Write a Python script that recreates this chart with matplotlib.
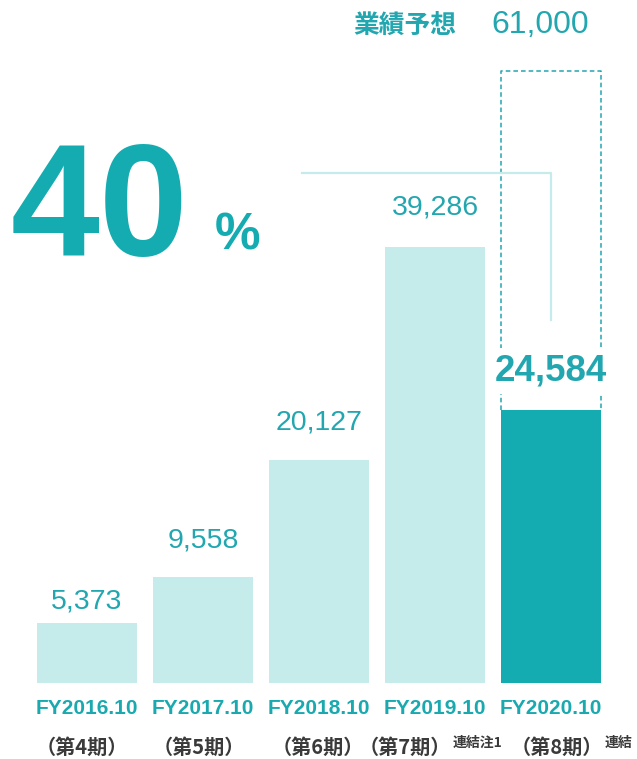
import numpy as np
import matplotlib.pyplot as plt

# 売上高（百万円）
years = ['FY2016.10', 'FY2017.10', 'FY2018.10', 'FY2019.10', 'FY2020.10']
periods = ['（第4期）', '（第5期）', '（第6期）', '（第7期）', '（第8期）']
notes = ['', '', '', '連結注1', '連結']
sales = [5373, 9558, 20127, 39286, 24584]
forecast = 61000
progress = 40  # 進捗率 (%)

LIGHT = '#c5ebea'
DARK = '#14acb0'
TEAL = '#22a6af'
GRAY = '#3a3a3a'
LATIN = ['Liberation Sans', 'DejaVu Sans']
CJK = ['Noto Sans CJK JP', 'DejaVu Sans']

W, H = 637, 759
fig = plt.figure(figsize=(W / 100, H / 100), dpi=100)

# axes spans the full width; baseline sits at 683 px from the top
base_px = 683
ax = fig.add_axes([0, (H - base_px) / H, 1, base_px / H])
px_per_unit = 436 / 39286
ax.set_ylim(0, base_px / px_per_unit)
ax.set_xlim(-87 / 116, (W - 87) / 116)
ax.axis('off')

x = np.arange(len(sales))
colors = [LIGHT] * 4 + [DARK]
ax.bar(x, sales, width=0.87, color=colors, zorder=2)

# 予想枠 (dashed frame over the last bar)
box_top = 55100
bx0, bx1 = x[-1] - 0.435, x[-1] + 0.435
ax.plot([bx0, bx0, bx1, bx1], [sales[-1], box_top, box_top, sales[-1]],
        color=TEAL, lw=1.1, ls=(0, (3, 2)), zorder=1)

# connector line from the headline figure down to the last bar
ax.plot([1.853, x[-1], x[-1]], [45950, 45950, 32700], color=LIGHT, lw=1.6, zorder=1)

# label offsets above each bar (points)
label_off = [16, 26, 27, 28.5, 28]
for i, v in enumerate(sales):
    last = i == len(sales) - 1
    ax.annotate(f'{v:,}', (x[i], v), xytext=(0, label_off[i]), textcoords='offset points',
                ha='center', va='center', color=TEAL, family=LATIN,
                fontsize=26.5 if last else 20.5,
                fontweight='bold' if last else 'normal', zorder=3,
                bbox=dict(facecolor='white', edgecolor='none', pad=4) if last else None)

# x labels
for i, yr in enumerate(years):
    fig.text((87 + 116 * i) / W, 1 - 708 / H, yr, ha='center', va='center',
             color='#1aa9ae', family=LATIN, fontsize=15, fontweight='bold')

period_x = [82, 199, 318, 405, 557]
for px, p in zip(period_x, periods):
    fig.text(px / W, 1 - 747 / H, p, ha='center', va='center',
             color=GRAY, family=CJK, fontsize=14.5, fontweight='bold')
note_x = [0, 0, 0, 453, 605]
for px, n in zip(note_x, notes):
    if n:
        fig.text(px / W, 1 - 743 / H, n, ha='left', va='center',
                 color=GRAY, family=CJK, fontsize=10, fontweight='bold')

# header
fig.text(456 / W, 1 - 25 / H, '業績予想', ha='right', va='center',
         color=TEAL, family=CJK, fontsize=18.5, fontweight='bold')
fig.text(491 / W, 1 - 25 / H, f'{forecast:,}', ha='left', va='center',
         color=TEAL, family=LATIN, fontsize=23)

# progress rate
fig.text(11 / W, 1 - 255 / H, f'{progress}', ha='left', va='baseline',
         color='#14acb0', family=LATIN, fontsize=115, fontweight='bold')
fig.text(215 / W, 1 - 250 / H, '%', ha='left', va='baseline',
         color='#14acb0', family=LATIN, fontsize=37, fontweight='bold')

fig.savefig('out.png', dpi=100, facecolor='white')
